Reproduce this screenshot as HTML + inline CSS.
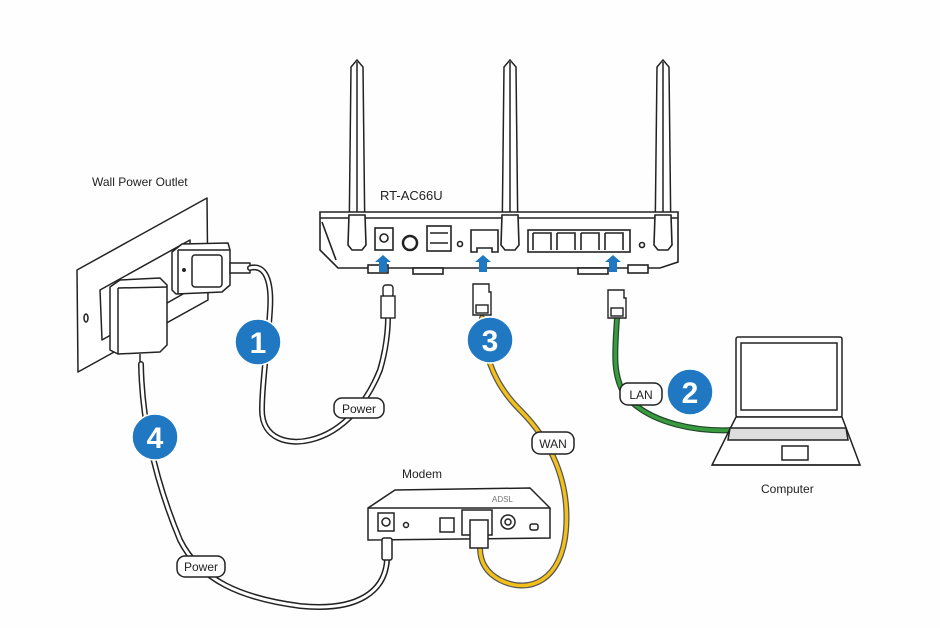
<!DOCTYPE html>
<html><head><meta charset="utf-8"><style>
html,body{margin:0;padding:0;background:#fff;}
svg{display:block;}
text{font-family:"Liberation Sans",sans-serif;}
</style></head><body>
<svg width="940" height="628" viewBox="0 0 940 628" xmlns="http://www.w3.org/2000/svg">
<rect width="940" height="628" fill="#fefefe"/>
<g fill="none" stroke="#222" stroke-width="1.5" stroke-linejoin="round">
<!-- Wall plate -->
<polygon points="77,270 207,198 208,300 78,372" fill="#fff"/>
<polygon points="100,290 190,240 190,290 102,340" fill="#fff"/>
<ellipse cx="86" cy="318" rx="2" ry="4"/>
<!-- small adapter -->
<polygon points="172,252 182,244 228,243 230,250 230,285 222,292 176,294 172,290" fill="#fff"/>
<line x1="178" y1="250" x2="230" y2="250"/>
<line x1="178" y1="250" x2="178" y2="294"/>
<rect x="192" y="255" width="30" height="32" rx="3" fill="#fff"/>
<circle cx="184" cy="270" r="1.2" fill="#222"/>
<rect x="230" y="263" width="20" height="10" fill="#fff"/>
<!-- big adapter -->
<polygon points="110,287 120,280 160,278 167,285 167,345 160,352 118,354 110,350" fill="#fff"/>
<line x1="118" y1="288" x2="167" y2="287"/>
<line x1="118" y1="288" x2="118" y2="354"/>
<line x1="140" y1="354" x2="140" y2="364"/>
</g>
<!-- cables -->
<g fill="none" stroke-linecap="round" stroke-linejoin="round">
<path id="c1" d="M250,268 C265,264 272,280 270,310 C268,345 262,380 262,410 C262,440 290,445 310,440 C345,432 368,400 380,370 C386,350 388,330 388,318" stroke="#222" stroke-width="6"/>
<path d="M250,268 C265,264 272,280 270,310 C268,345 262,380 262,410 C262,440 290,445 310,440 C345,432 368,400 380,370 C386,350 388,330 388,318" stroke="#fff" stroke-width="3"/>
<path d="M141,364 C142,420 155,480 180,540 C200,580 240,598 300,606 C360,612 385,590 387,560" stroke="#222" stroke-width="6"/>
<path d="M141,364 C142,420 155,480 180,540 C200,580 240,598 300,606 C360,612 385,590 387,560" stroke="#fff" stroke-width="3"/>
<path d="M482,318 C484,350 490,380 520,410 C550,440 570,480 566,530 C562,580 530,595 500,580 C485,572 480,560 480,548" stroke="#555" stroke-width="6"/>
<path d="M482,318 C484,350 490,380 520,410 C550,440 570,480 566,530 C562,580 530,595 500,580 C485,572 480,560 480,548" stroke="#f3c019" stroke-width="3.5"/>
<path d="M617,318 C615,350 612,375 625,395 C650,425 700,432 735,430" stroke="#1f4a2a" stroke-width="6"/>
<path d="M617,318 C615,350 612,375 625,395 C650,425 700,432 735,430" stroke="#3a9a3f" stroke-width="3.5"/>
</g>
<!-- antennas -->
<g fill="#fff" stroke="#222" stroke-width="1.5">
<polygon points="351,67 357,60 363,67 365,245 349,245"/>
<line x1="357" y1="62" x2="357" y2="245"/>
<polygon points="504,67 510,60 516,67 518,245 502,245"/>
<line x1="510" y1="62" x2="510" y2="245"/>
<polygon points="657,67 663,60 669,67 671,245 655,245"/>
<line x1="663" y1="62" x2="663" y2="245"/>
</g>
<!-- router -->
<g fill="#fff" stroke="#222" stroke-width="1.6">
<path d="M320,212 L678,212 L678,262 L660,268 L338,268 L320,250 Z"/>
<line x1="320" y1="218" x2="678" y2="218"/>
<path d="M322,222 L336,260" />
<rect x="368" y="265" width="20" height="8"/>
<rect x="413" y="268" width="30" height="6"/>
<rect x="578" y="268" width="30" height="6"/>
<rect x="628" y="265" width="20" height="8"/>
<polygon points="349,215 365,215 366,245 362,250 352,250 348,245"/>
<polygon points="502,215 518,215 519,245 515,250 505,250 501,245"/>
<polygon points="655,215 671,215 672,245 668,250 658,250 654,245"/>
<rect x="375" y="228" width="18" height="22"/>
<circle cx="384" cy="238" r="4"/>
<circle cx="410" cy="243" r="7" stroke-width="2.5"/>
<rect x="427" y="226" width="24" height="25"/>
<line x1="430" y1="233" x2="448" y2="233"/><line x1="430" y1="243" x2="448" y2="243"/>
<circle cx="460" cy="244" r="2.5"/>
<path d="M471,230 H498 V252 H492 V248 H477 V252 H471 Z"/>
<rect x="528" y="230" width="102" height="22"/>
<path d="M533,233 H551 V250 M533,233 V250 M557,233 H575 V250 M557,233 V250 M581,233 H599 V250 M581,233 V250 M605,233 H623 V250 M605,233 V250"/>
<circle cx="642" cy="245" r="2.5"/>
</g>
<text x="380" y="200" font-size="13" fill="#222">RT-AC66U</text>
<!-- blue arrows -->
<g fill="#1f78c1">
<polygon points="383,255 391,262 387,262 387,272 379,272 379,262 375,262"/>
<polygon points="483,255 491,262 487,262 487,272 479,272 479,262 475,262"/>
<polygon points="613,255 621,262 617,262 617,272 609,272 609,262 605,262"/>
</g>
<!-- plugs -->
<g fill="#fff" stroke="#222" stroke-width="1.4">
<rect x="383" y="285" width="10" height="12" rx="3"/>
<rect x="381" y="296" width="14" height="22"/>
<path d="M473,284 H489 V292 H491 V315 H473 Z"/>
<rect x="476" y="305" width="12" height="8"/>
<path d="M608,290 H624 V298 H626 V318 H608 Z"/>
<rect x="611" y="308" width="12" height="8"/>
</g>
<!-- modem -->
<g fill="#fff" stroke="#222" stroke-width="1.5">
<path d="M368,508 L395,490 L530,488 L550,508 L550,538 L368,540 Z"/>
<line x1="368" y1="508" x2="550" y2="508"/>
<rect x="378" y="513" width="16" height="18"/>
<circle cx="386" cy="522" r="4"/>
<circle cx="406" cy="525" r="2.5"/>
<path d="M440,518 H454 V532 H440 Z"/>
<rect x="462" y="510" width="30" height="25"/>
<circle cx="508" cy="522" r="7"/><circle cx="508" cy="522" r="3"/>
<rect x="530" y="524" width="8" height="6" rx="2"/>
<rect x="470" y="520" width="18" height="28"/>
<rect x="382" y="538" width="10" height="22" rx="2"/>
</g>
<text x="492" y="502" font-size="8" fill="#777">ADSL</text>
<text x="402" y="478" font-size="12" fill="#222">Modem</text>
<!-- laptop -->
<g fill="#fff" stroke="#222" stroke-width="1.5">
<rect x="736" y="337" width="106" height="80" rx="2"/>
<rect x="741" y="343" width="96" height="67"/>
<path d="M736,417 L842,417 L860,465 L712,465 Z"/>
<path d="M730,428 H846 L848,440 H728 Z" fill="#ddd"/>
<rect x="782" y="446" width="26" height="14"/>
<line x1="712" y1="465" x2="860" y2="465"/>
</g>
<text x="761" y="493" font-size="12" fill="#222">Computer</text>
<text x="92" y="186" font-size="12" fill="#222">Wall Power Outlet</text>
<!-- labels -->
<g fill="#fff" stroke="#222" stroke-width="1.5">
<rect x="334" y="398" width="50" height="20" rx="8"/>
<rect x="177" y="556" width="48" height="21" rx="8"/>
<rect x="532" y="432" width="42" height="22" rx="8"/>
<rect x="620" y="383" width="42" height="22" rx="8"/>
</g>
<g font-size="12" fill="#222" text-anchor="middle">
<text x="359" y="413">Power</text>
<text x="201" y="571">Power</text>
<text x="553" y="448">WAN</text>
<text x="641" y="399">LAN</text>
</g>
<!-- numbered circles -->
<g fill="#1f78c1" stroke="#fff" stroke-width="1.5">
<circle cx="258" cy="342" r="23"/><circle cx="690" cy="392" r="23"/>
<circle cx="490" cy="340" r="23"/><circle cx="155" cy="437" r="23"/>
</g>
<g font-size="30" font-weight="bold" fill="#fff" text-anchor="middle">
<text x="258" y="353">1</text><text x="690" y="403">2</text>
<text x="490" y="351">3</text><text x="155" y="448">4</text>
</g>
</svg>
</body></html>
